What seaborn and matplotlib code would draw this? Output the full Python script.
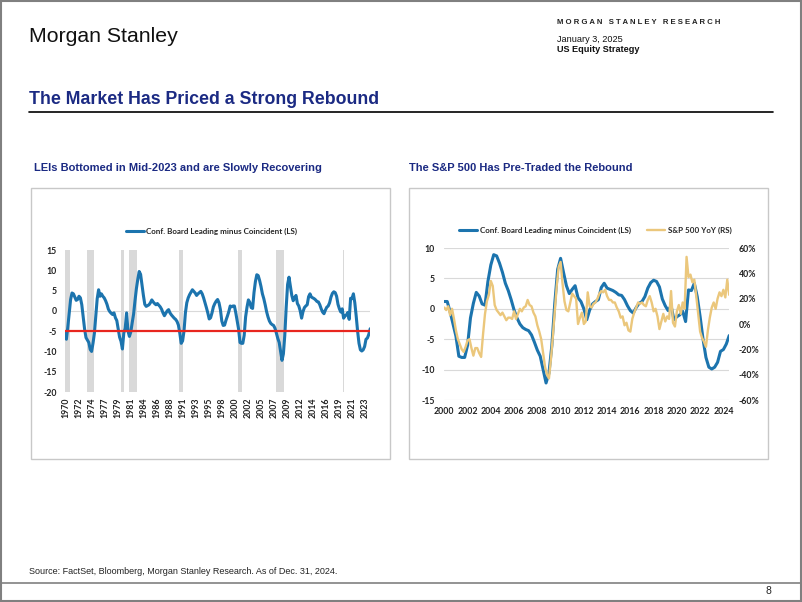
import numpy as np
import matplotlib
matplotlib.use("Agg")
import matplotlib.pyplot as plt
import seaborn as sns
from matplotlib.patches import Rectangle
from matplotlib.lines import Line2D

sns.set_style("white")
plt.rcParams['font.family'] = ['Lato', 'DejaVu Sans']

# Colours
NAVY = "#1B2A83"
BLUE = "#1C74AE"
GOLD = "#EBC77C"
RED = "#E8261F"
GRID = "#D9D9D9"
SANS = ['Liberation Sans', 'DejaVu Sans']

# Conf. Board Leading minus Coincident, quarterly from 1970
lei_values = [
    -5.5, -7.0, -4.0, -0.5,   2.8, 4.4, 4.2, 3.4,   2.6, 2.8, 3.6, 3.2,   1.5, -1.5, -4.5, -6.6,
    -7.2, -7.8, -9.5, -10.0,  -8.0, -5.5, -1.3, 3.0,  5.2, 3.6, 4.2, 3.6,   3.2, 2.5, 1.6, 0.4,
    -0.2, -0.6, -0.9, -0.5,   -1.7, -2.4, -4.5, -6.5,  -7.5, -9.4, -5.5, -4.3,  -0.5, -5.0, -6.3, -5.2,
    -2.9, -0.8, 2.5, 5.5,     7.8, 9.7, 9.0, 6.3,     3.8, 1.6, 1.1, 1.3,   1.5, 2.0, 2.7, 2.2,
    1.8, 1.5, 1.8, 1.4,       1.0, 0.4, -0.5, -1.2,   -0.6, 0.0, 0.3, -0.5,  -1.0, -1.4, -1.8, -2.1,
    -2.6, -3.5, -5.5, -8.0,   -7.4, -5.0, -0.5, 2.0,  3.2, 4.0, 4.6, 5.2,   4.8, 4.4, 3.8, 4.2,
    4.5, 4.8, 4.2, 3.2,       2.0, 0.8, -0.5, -2.0,   -1.7, -0.5, 1.0, 1.8,  2.4, 2.8, 2.0, 0.3,
    -2.5, -3.6, -3.5, -2.3,   -1.3, -0.2, 1.2, 1.0,
    1.2, 1.2, -0.5, -2.5,     -4.5, -7.8, -8.0, -8.0,  -6.0, -1.5, 0.9, 2.7,  2.1, 0.8, 0.6, 4.5,
    7.2, 8.9, 8.7, 7.5,       6.0, 4.2, 3.0, 1.5,     -0.2, -1.5, -2.5, -3.1,  -3.4, -3.6, -4.3, -5.5,
    -6.8, -7.8, -10.0, -12.2, -10.6, -6.0, 0.9, 6.5,  8.3, 6.0, 3.8, 2.5,   3.2, 3.8, 1.8, 1.2,
    0.0, -1.8, -0.2, 0.8,     1.2, 1.5, 3.5, 4.2,     3.4, 3.2, 3.0, 2.7,   2.3, 2.2, 1.5, 0.5,
    -0.3, -0.7, 0.2, 0.9,     1.2, 2.0, 3.4, 4.3,     4.7, 4.5, 3.6, 1.6,   0.5, -0.3, 0.5, -1.8,
    -1.3, -1.0, -0.4, -2.1,   3.1, 3.0, 4.2, 2.0,     -1.3, -5.0, -8.0, -9.6,  -9.9, -9.6, -8.8, -7.0,
    -6.7, -5.8, -4.4,
]
lei_years = 1970 + 0.25 * np.arange(len(lei_values))

# S&P 500 YoY %, every two months from 2000
spx_yoy = [
    13, 11, 14, 7, 12, 4,      -5, -12, -16, -20, -22, -18,   -13, -12, -19, -25, -19, -19,
    -23, -26, -8, 8, 18, 23,   34, 30, 15, 11, 9, 7,          9, 6, 3, 5, 5, 4,
    10, 4, 8, 12, 10, 13,      14, 19, 15, 14, 9, 6,          -1, -6, -12, -23, -34, -40,
    -43, -28, -10, 10, 30, 45,  49, 32, 18, 11, 10, 17,       24, 22, 20, 0, 5, 9,
    0, 2, 25, 14, 13, 16,      17, 20, 24, 26, 25, 27,        22, 19, 19, 17, 17, 13,
    10, 5, 6, -1, 1, -5,       -6, 4, 9, 13, 17, 16,          17, 15, 14, 19, 22, 17,
    10, 12, 6, -4, 2, 8,       2, 6, 4, 26, 1, -2,            10, 15, 8, 17, 12, 53,
    37, 39, 33, 35, 22, 8,     -6, -11, -14, -18, -5, 5,      13, 17, 12, 20, 25, 22,
    27, 21, 35, 23,
]
spx_years = 2000 + np.arange(len(spx_yoy)) / 6

# Recession shading (as placed on the left chart)
rec_start = [1970.0, 1973.87, 1980.0, 1981.43, 1990.36, 2000.95, 2007.68, 2019.62]
rec_end = [1970.85, 1975.24, 1980.54, 1982.86, 1991.07, 2001.67, 2009.17, 2019.78]

left_xlabels = ["1970", "1972", "1974", "1977", "1979", "1981", "1984", "1986", "1988",
                "1991", "1993", "1995", "1998", "2000", "2002", "2005", "2007", "2009",
                "2012", "2014", "2016", "2019", "2021", "2023"]
right_xlabels = [str(y) for y in range(2000, 2025, 2)]
right_pct = [-60, -40, -20, 0, 20, 40, 60]

LEG_LEI = "Conf. Board Leading minus Coincident (LS)"
LEG_SPX = "S&P 500 YoY (RS)"

W, H = 802, 602
fig = plt.figure(figsize=(W / 100, H / 100), dpi=100)


def fx(x):
    return x / W


def fy(y):
    return 1 - y / H


# page frame and rules
fig.add_artist(Rectangle((0.7 / W, 0.7 / H), 1 - 1.4 / W, 1 - 1.4 / H, transform=fig.transFigure,
                         fill=False, edgecolor="#808080", lw=1.5))
fig.add_artist(Line2D([0, 1], [fy(582.5)] * 2, transform=fig.transFigure, color="#808080", lw=1.2))
fig.add_artist(Line2D([fx(29), fx(773)], [fy(112)] * 2, transform=fig.transFigure, color="black", lw=1.2))

# panel boxes
for x0, x1 in [(31, 390), (409, 768)]:
    fig.add_artist(Rectangle((fx(x0), fy(459)), (x1 - x0) / W, (459 - 188) / H, transform=fig.transFigure,
                             fill=False, edgecolor="#C8C8C8", lw=1.0))

# header text
fig.text(fx(29), fy(36), "Morgan Stanley", fontsize=15.3, family=SANS, va="center", ha="left", color="#111111")
fig.text(fx(557), fy(23), "M O R G A N   S T A N L E Y   R E S E A R C H", fontsize=5.6, weight="bold",
         family=SANS, va="center", color="#222222")
fig.text(fx(557), fy(40), "January 3, 2025", fontsize=6.6, family=SANS, va="center", color="#111111")
fig.text(fx(557), fy(50), "US Equity Strategy", fontsize=6.6, family=SANS, weight="bold", va="center",
         color="#111111")
fig.text(fx(29), fy(100), "The Market Has Priced a Strong Rebound", fontsize=12.8, family=SANS,
         weight="bold", color=NAVY, va="center")
fig.text(fx(34), fy(168), "LEIs Bottomed in Mid-2023 and are Slowly Recovering", fontsize=8.0,
         family=SANS, weight="bold", color=NAVY, va="center")
fig.text(fx(409), fy(168), "The S&P 500 Has Pre-Traded the Rebound", fontsize=8.0,
         family=SANS, weight="bold", color=NAVY, va="center")
fig.text(fx(29), fy(572), "Source: FactSet, Bloomberg, Morgan Stanley Research. As of Dec. 31, 2024.",
         fontsize=6.45, family=SANS, va="center", color="#222222")
fig.text(fx(768), fy(591), "8", fontsize=7.5, family=SANS, va="center", ha="center", color="#222222")

TICK = dict(fontsize=6.3, weight="bold", color="#222222")

# ---- left chart
axL = fig.add_axes([fx(65), fy(392), (370.2 - 65) / W, (392 - 250) / H])
axL.set_facecolor("none")
for s, e in zip(rec_start, rec_end):
    axL.axvspan(s, e, color=GRID, lw=0, zorder=0)
axL.axhline(0, color=GRID, lw=0.8, zorder=1)
sns.lineplot(x=lei_years, y=lei_values, ax=axL, color=BLUE, lw=2.2, label=LEG_LEI, zorder=3)
axL.axhline(-5, color=RED, lw=1.6, zorder=4)
axL.set_xlim(1970, 2024.5)
axL.set_ylim(-20, 15)
axL.set_yticks(range(-20, 16, 5))
axL.set_yticklabels([str(v) for v in range(-20, 16, 5)], **TICK)
axL.set_xticks([1970.1 + 2.329 * k for k in range(len(left_xlabels))])
axL.set_xticklabels(left_xlabels, rotation=90, **TICK)
axL.tick_params(axis="both", length=0)
axL.tick_params(axis="y", pad=6)
axL.tick_params(axis="x", pad=4)
axL.set_xlabel("")
axL.set_ylabel("")
sns.despine(ax=axL, left=True, bottom=True)
axL.legend(loc="center", bbox_to_anchor=(0.48, 1.134), frameon=False, handlelength=2.3,
           handletextpad=0.3, prop=dict(size=5.8, weight="bold"))

# ---- right chart
axR = fig.add_axes([fx(444.3), fy(400), (729.2 - 444.3) / W, (400 - 248) / H])
axR.set_facecolor("none")
axR.grid(axis="y", color=GRID, lw=0.8)
axR.set_axisbelow(True)
i2000 = int(np.searchsorted(lei_years, 2000))
sns.lineplot(x=lei_years[i2000:], y=lei_values[i2000:], ax=axR, color=BLUE, lw=2.2, label=LEG_LEI)
axR.set_xlim(2000, 2024.5)
axR.set_ylim(-15, 10)
axR.set_yticks(range(-15, 11, 5))
axR.set_yticklabels([str(v) for v in range(-15, 11, 5)], **TICK)
axR.set_xticks([int(s) for s in right_xlabels])
axR.set_xticklabels(right_xlabels, **TICK)
axR.tick_params(axis="both", length=0)
axR.tick_params(axis="y", pad=7)
axR.tick_params(axis="x", pad=5)
axR.set_xlabel("")
axR.set_ylabel("")

axR2 = axR.twinx()
sns.lineplot(x=spx_years, y=spx_yoy, ax=axR2, color=GOLD, lw=1.7, label=LEG_SPX)
axR2.set_ylim(-60, 60)
axR2.set_yticks(right_pct)
axR2.set_yticklabels([f"{v}%" for v in right_pct], **TICK)
axR2.tick_params(axis="y", length=0, pad=7)
axR2.set_ylabel("")
for a in (axR, axR2):
    for sp in a.spines.values():
        sp.set_visible(False)
axR.get_legend().remove()
h1, l1 = axR.get_legend_handles_labels()
h2, l2 = axR2.get_legend_handles_labels()
axR2.legend(h1 + h2, l1 + l2, loc="center", bbox_to_anchor=(0.529, 1.118), ncol=2, frameon=False,
            handlelength=2.3, handletextpad=0.3, columnspacing=2.0, prop=dict(size=5.8, weight="bold"))

fig.savefig("out.png", dpi=100)
